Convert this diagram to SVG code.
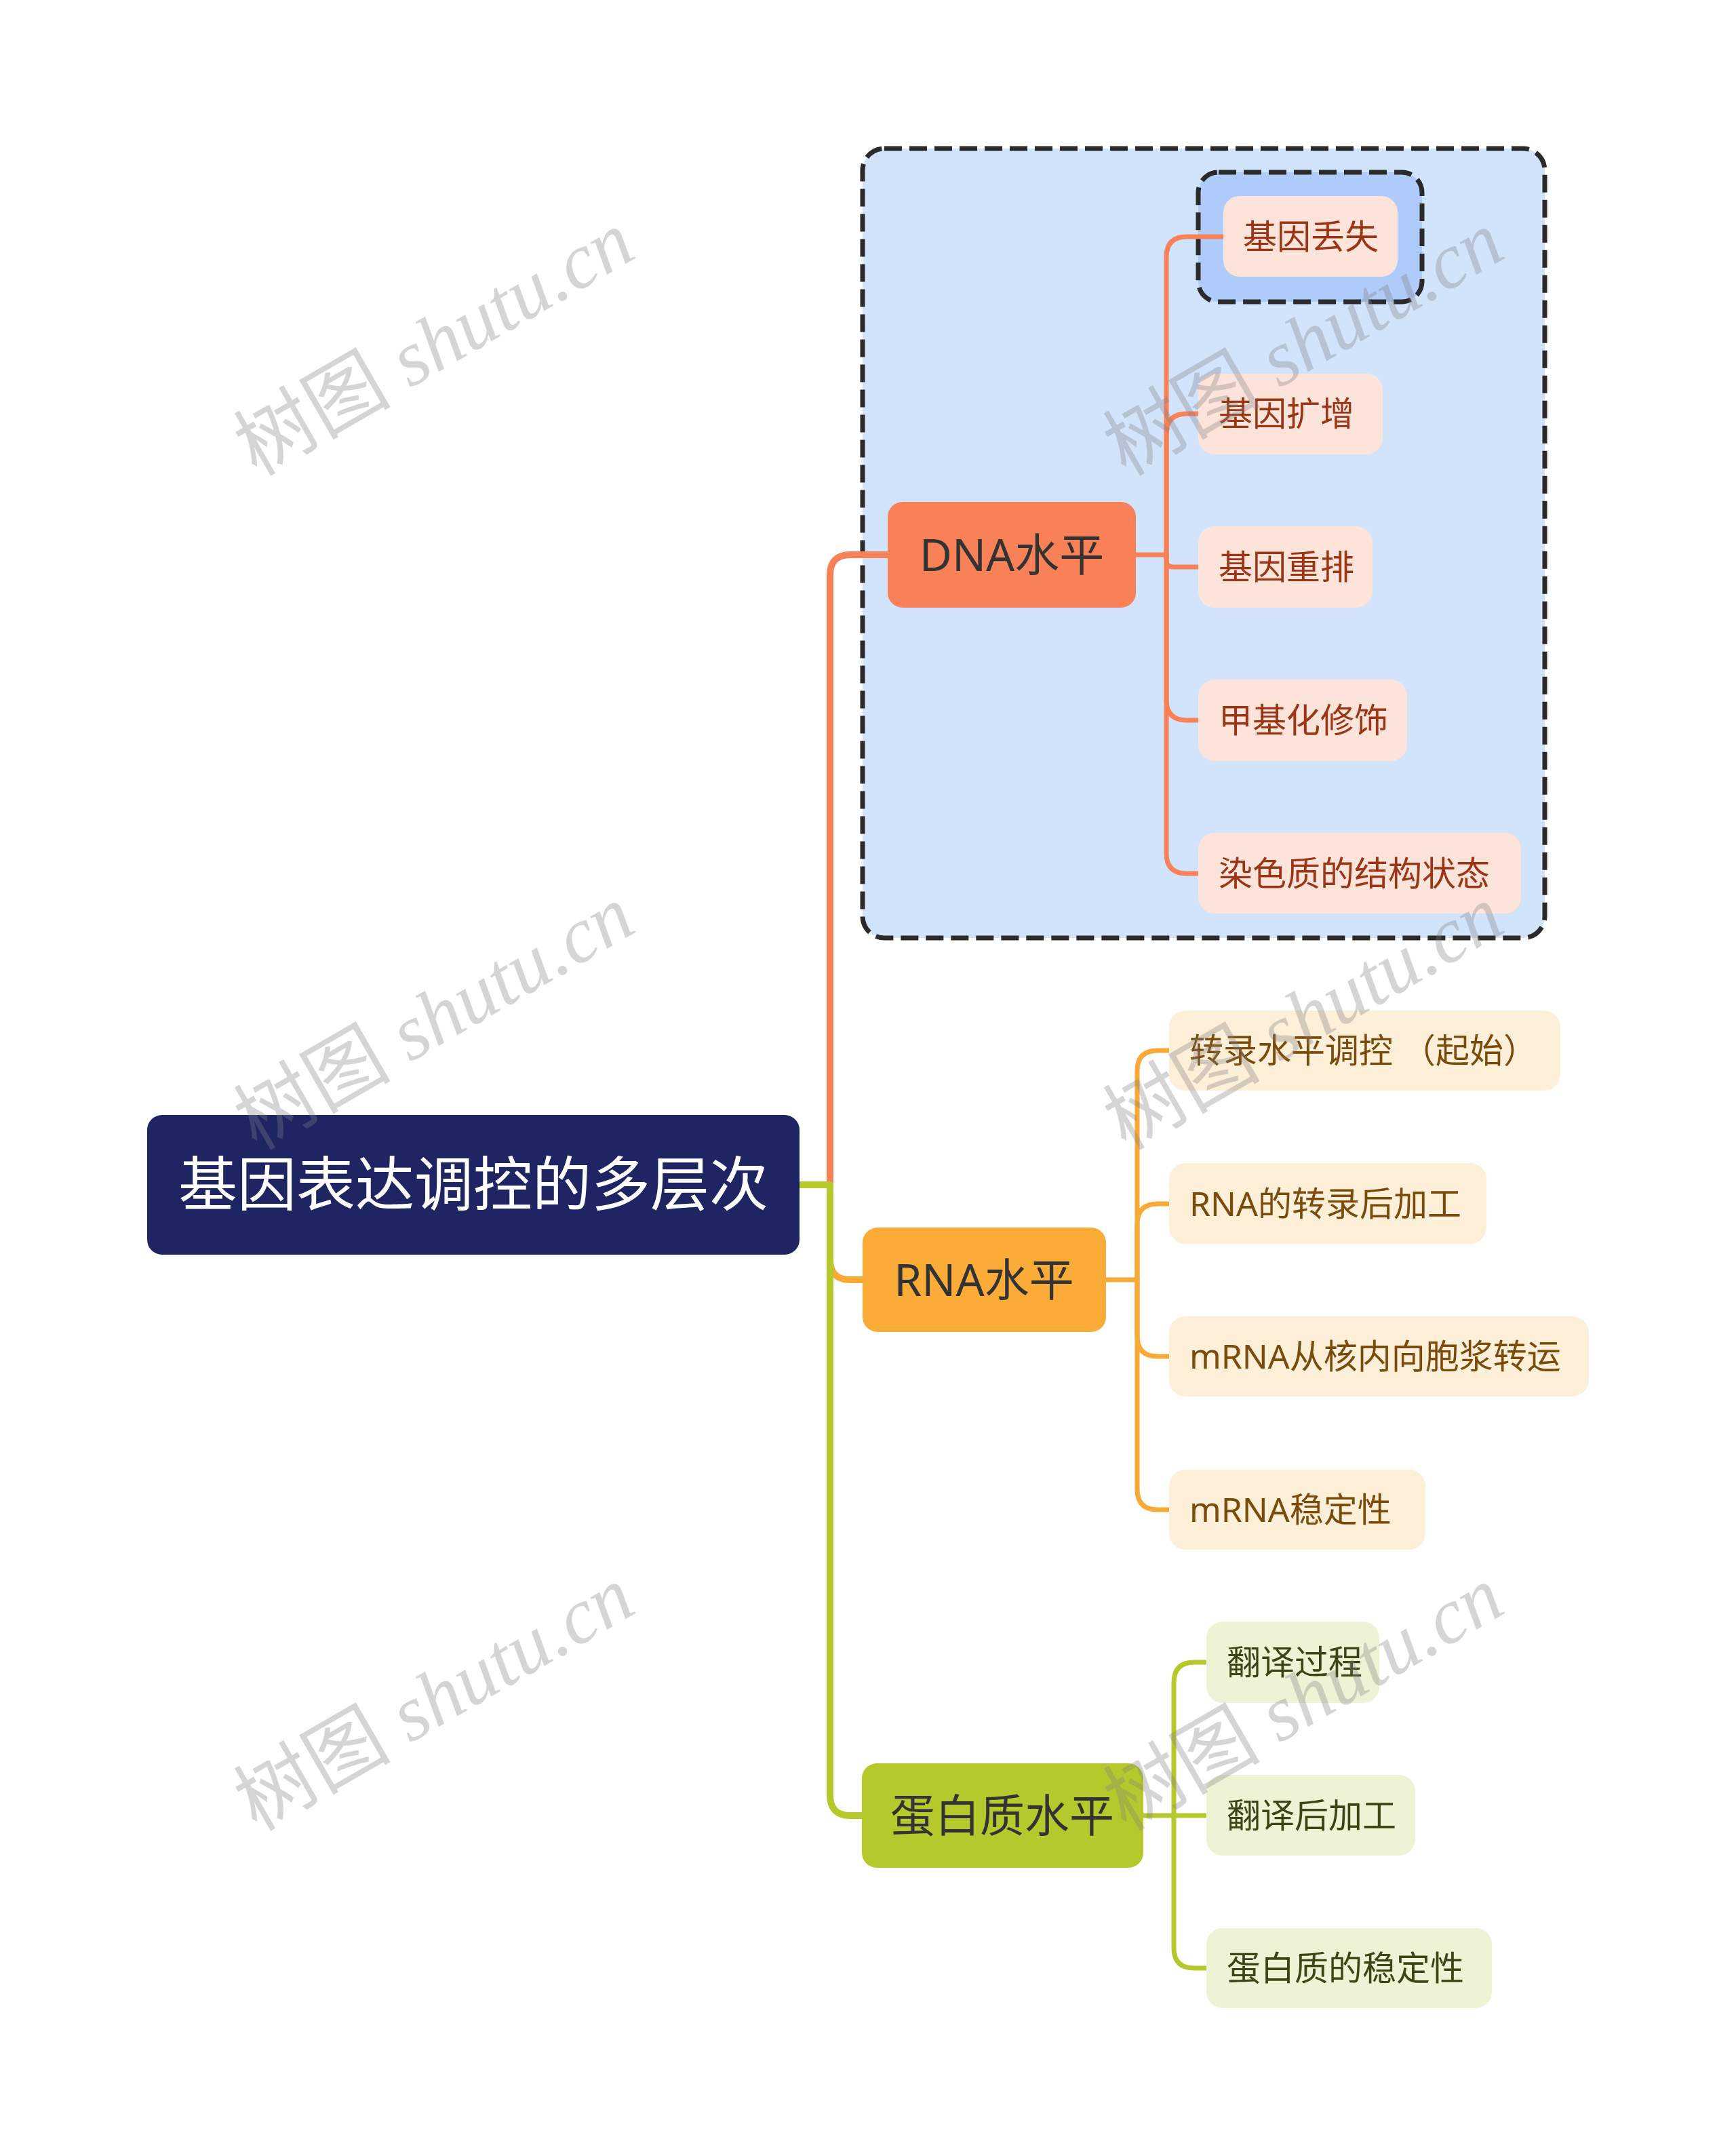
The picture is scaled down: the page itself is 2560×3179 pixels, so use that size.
<svg xmlns="http://www.w3.org/2000/svg" width="2560" height="3179" viewBox="0 0 2560 3179">
<style>
.t{font-family:"Noto Sans","Noto Sans CJK SC",sans-serif}
.root{fill:#1F2563}
.rt{fill:#FFFFFF;font-size:87px}
.mt{fill:#333333;font-size:66px}
.ct{font-size:50px}
.dn{fill:#FDE4DA}
.dt{fill:#9C3516}
.rn{fill:#FEEFD8}
.rtx{fill:#7B4B0B}
.pn{fill:#EFF3D6}
.ptx{fill:#3D4516}
.c{fill:none;stroke-linecap:round;stroke-linejoin:round}
.c1{stroke-width:10}
.c2{stroke-width:7}
.o{stroke:#F88158}
.y{stroke:#F9A935}
.g{stroke:#B5C92C}
.box{stroke:#2A2A2A;stroke-width:7;stroke-dasharray:26 11}
.wm{font-family:"Liberation Serif","Noto Sans CJK SC",serif;font-size:116px;fill:#808080;fill-opacity:0.33}
</style>
<rect width="2560" height="3179" fill="#FFFFFF"/>
<g id="dna-boundary">
<rect x="1272" y="219" width="1006" height="1164" rx="32" fill="#D2E3FC" class="box"/>
</g>
<g id="gene-loss-boundary">
<rect x="1767" y="254" width="330" height="191" rx="30" fill="#AFCBFA" class="box"/>
</g>
<g id="connectors">
<path class="c c1 o" d="M1179 1747 H1224 V848 Q1224 818 1254 818 H1309"/>
<path class="c c1 y" d="M1179 1747 H1224 V1857 Q1224 1887 1254 1887 H1272"/>
<path class="c c1 g" d="M1179 1747 H1224 V2647 Q1224 2677 1254 2677 H1271"/>
<path class="c c2 o" d="M1675 818 H1720 V379 Q1720 349 1750 349 H1804"/>
<path class="c c2 o" d="M1720 818 V640 Q1720 610 1750 610 H1767"/>
<path class="c c2 o" d="M1720 818 V826 Q1720 836 1730 836 H1767"/>
<path class="c c2 o" d="M1720 818 V1032 Q1720 1062 1750 1062 H1767"/>
<path class="c c2 o" d="M1720 818 V1258 Q1720 1288 1750 1288 H1767"/>
<path class="c c2 y" d="M1631 1887 H1677 V1579 Q1677 1549 1707 1549 H1724"/>
<path class="c c2 y" d="M1677 1887 V1805 Q1677 1775 1707 1775 H1724"/>
<path class="c c2 y" d="M1677 1887 V1970 Q1677 2000 1707 2000 H1724"/>
<path class="c c2 y" d="M1677 1887 V2196 Q1677 2226 1707 2226 H1724"/>
<path class="c c2 g" d="M1686 2677 H1731 V2481 Q1731 2451 1761 2451 H1779"/>
<path class="c c2 g" d="M1731 2677 H1779"/>
<path class="c c2 g" d="M1731 2677 V2872 Q1731 2902 1761 2902 H1779"/>
</g>
<g id="root">
<rect class="root" x="217" y="1644" width="962" height="206" rx="22"/>
<text class="t rt" x="698" y="1778" text-anchor="middle">基因表达调控的多层次</text>
</g>
<g id="dna">
<rect x="1309" y="740" width="366" height="156" rx="22" fill="#F88158"/>
<text class="t mt" x="1492" y="842" text-anchor="middle">DNA水平</text>
</g>
<g id="rna">
<rect x="1272" y="1810" width="359" height="154" rx="22" fill="#FBAB37"/>
<text class="t mt" x="1451" y="1911" text-anchor="middle">RNA水平</text>
</g>
<g id="protein">
<rect x="1271" y="2600" width="415" height="154" rx="22" fill="#B5C92C"/>
<text class="t mt" x="1478" y="2701" text-anchor="middle">蛋白质水平</text>
</g>
<g id="gene-loss">
<rect class="dn" x="1804" y="289" width="257" height="119" rx="24"/>
<text class="t ct dt" x="1833" y="367">基因丢失</text>
</g>
<g id="gene-amplification">
<rect class="dn" x="1767" y="551" width="272" height="119" rx="24"/>
<text class="t ct dt" x="1797" y="628">基因扩增</text>
</g>
<g id="gene-rearrangement">
<rect class="dn" x="1767" y="776" width="257" height="120" rx="24"/>
<text class="t ct dt" x="1797" y="854">基因重排</text>
</g>
<g id="methylation">
<rect class="dn" x="1767" y="1002" width="308" height="120" rx="24"/>
<text class="t ct dt" x="1797" y="1080">甲基化修饰</text>
</g>
<g id="chromatin">
<rect class="dn" x="1767" y="1228" width="476" height="119" rx="24"/>
<text class="t ct dt" x="1797" y="1306">染色质的结构状态</text>
</g>
<g id="transcription">
<rect class="rn" x="1724" y="1490" width="577" height="118" rx="24"/>
<text class="t ct rtx" x="1754" y="1567">转录水平调控 （起始）</text>
</g>
<g id="post-transcription">
<rect class="rn" x="1724" y="1715" width="468" height="119" rx="24"/>
<text class="t ct rtx" x="1754" y="1793">RNA的转录后加工</text>
</g>
<g id="mrna-transport">
<rect class="rn" x="1724" y="1941" width="619" height="118" rx="24"/>
<text class="t ct rtx" x="1754" y="2018">mRNA从核内向胞浆转运</text>
</g>
<g id="mrna-stability">
<rect class="rn" x="1724" y="2167" width="378" height="118" rx="24"/>
<text class="t ct rtx" x="1754" y="2244">mRNA稳定性</text>
</g>
<g id="translation">
<rect class="pn" x="1779" y="2391" width="255" height="120" rx="24"/>
<text class="t ct ptx" x="1809" y="2469">翻译过程</text>
</g>
<g id="post-translation">
<rect class="pn" x="1779" y="2617" width="308" height="119" rx="24"/>
<text class="t ct ptx" x="1809" y="2695">翻译后加工</text>
</g>
<g id="protein-stability">
<rect class="pn" x="1779" y="2843" width="421" height="118" rx="24"/>
<text class="t ct ptx" x="1809" y="2920">蛋白质的稳定性</text>
</g>
<g id="watermarks">
<text class="wm" transform="translate(640 506) rotate(-30)" x="0" y="40" text-anchor="middle">树图 <tspan font-style="italic">shutu.cn</tspan></text>
<text class="wm" transform="translate(1922 506) rotate(-30)" x="0" y="40" text-anchor="middle">树图 <tspan font-style="italic">shutu.cn</tspan></text>
<text class="wm" transform="translate(640 1500) rotate(-30)" x="0" y="40" text-anchor="middle">树图 <tspan font-style="italic">shutu.cn</tspan></text>
<text class="wm" transform="translate(1922 1500) rotate(-30)" x="0" y="40" text-anchor="middle">树图 <tspan font-style="italic">shutu.cn</tspan></text>
<text class="wm" transform="translate(640 2504) rotate(-30)" x="0" y="40" text-anchor="middle">树图 <tspan font-style="italic">shutu.cn</tspan></text>
<text class="wm" transform="translate(1922 2504) rotate(-30)" x="0" y="40" text-anchor="middle">树图 <tspan font-style="italic">shutu.cn</tspan></text>
</g>
</svg>
